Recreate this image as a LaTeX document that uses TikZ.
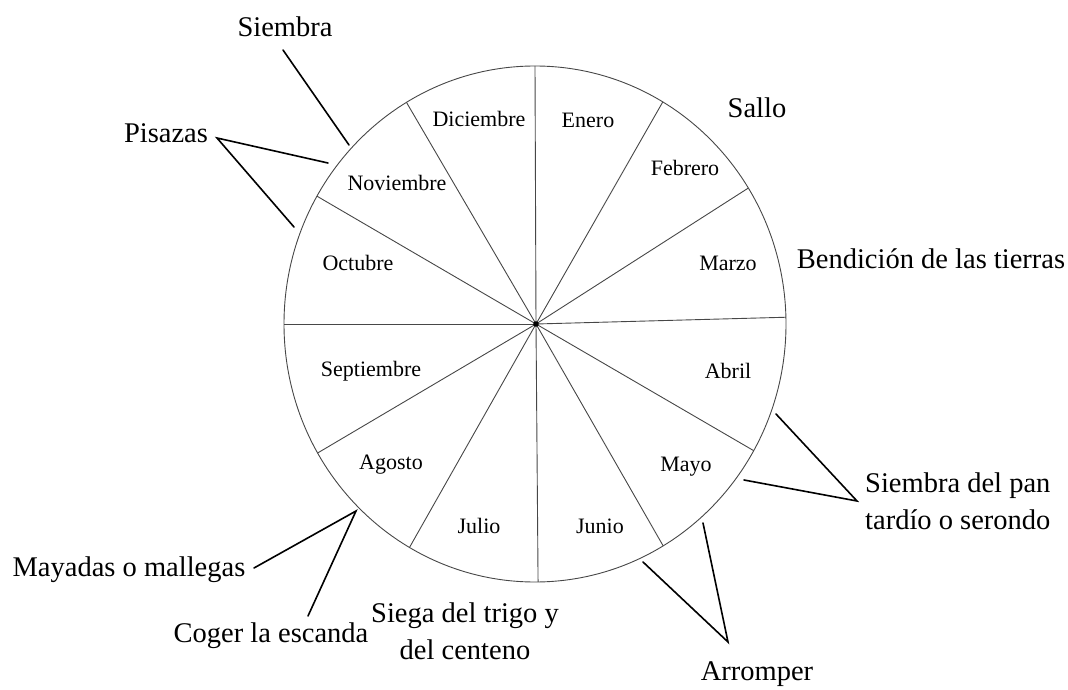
\documentclass[tikz,border=0pt]{standalone}
\usepackage{fontspec}
\setmainfont{Liberation Serif}
\usepackage{tikz}

\begin{document}
\begin{tikzpicture}[x=1pt,y=1pt,
  rim/.style={draw=black!72,line width=0.9pt},
  pointer/.style={draw=black,line width=1.6pt,line cap=round},
  month/.style={font=\fontsize{22}{26}\selectfont,inner sep=0pt},
  task/.style={font=\fontsize{28.5}{37}\selectfont,inner sep=0pt}]
\useasboundingbox (0,0) rectangle (1068,689);
\coordinate (ctr) at (535,365);
\coordinate (hub) at (536,365);
\draw[rim] (ctr) ellipse [x radius=251, y radius=258];
\foreach \a in {90,59.4,31.8,1.5,-29.4,-59.3,-89.3,-120,-150,180,150.3,120.8}
  \draw[rim] (hub) -- ([shift={(ctr)}]\a:251 and 258);
\fill (hub) circle (2.8);

\node[month] (ene) at (588,569) {Enero};
\node[month] (feb) at (685,521) {Febrero};
\node[month] (mar) at (728,426) {Marzo};
\node[month] (abr) at (728,318) {Abril};
\node[month] (may) at (686,222) {Mayo};
\node[month] (jun) at (600,163) {Junio};
\node[month] (jul) at (479,163) {Julio};
\node[month] (ago) at (391,224) {Agosto};
\node[month] (sep) at (371,318) {Septiembre};
\node[month] (oct) at (358,426) {Octubre};
\node[month] (nov) at (397,506) {Noviembre};
\node[month] (dic) at (479,570) {Diciembre};

\node[task] (siembra) at (285,662) {Siembra};
\node[task] (pisazas) at (166,556) {Pisazas};
\node[task] (sallo) at (757,581) {Sallo};
\node[task] (bendicion) at (931,430) {Bendición de las tierras};
\node[task,anchor=west,align=left] (serondo) at (865,188) {Siembra del pan\\tardío o serondo};
\node[task] (arromper) at (757,15) {Arromper};
\node[task,align=center] (siega) at (465,58) {Siega del trigo y\\del centeno};
\node[task] (escanda) at (271,53) {Coger la escanda};
\node[task] (mayadas) at (129,119) {Mayadas o mallegas};

\coordinate (siembra-a) at (283,639);
\coordinate (siembra-b) at (349,544);
\coordinate (pisazas-tip) at (217,551);
\coordinate (pisazas-a) at (328,526);
\coordinate (pisazas-b) at (294,462);
\coordinate (serondo-tip) at (857,188);
\coordinate (serondo-a) at (776,275);
\coordinate (serondo-b) at (744,209);
\coordinate (arromper-tip) at (728,47);
\coordinate (arromper-a) at (643,127);
\coordinate (arromper-b) at (703,166);
\coordinate (mayadas-tip) at (356,178);
\coordinate (mayadas-a) at (254,121);
\coordinate (escanda-a) at (308,73);

\draw[pointer] (siembra-a) -- (siembra-b);
\draw[pointer] (pisazas-a) -- (pisazas-tip) -- (pisazas-b);
\draw[pointer] (serondo-a) -- (serondo-tip) -- (serondo-b);
\draw[pointer] (arromper-a) -- (arromper-tip) -- (arromper-b);
\draw[pointer] (mayadas-a) -- (mayadas-tip) -- (escanda-a);
\end{tikzpicture}
\end{document}
